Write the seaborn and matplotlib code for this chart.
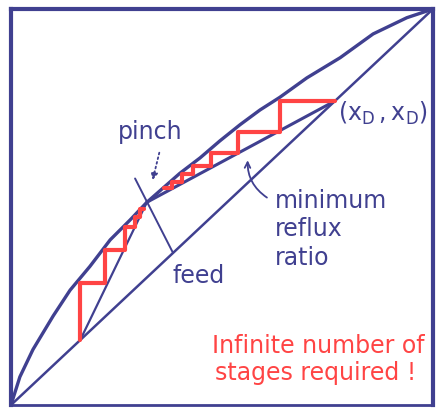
import matplotlib
matplotlib.use("Agg")
import matplotlib.pyplot as plt
import seaborn as sns

# curves (mole fractions)
eq_x = [0.0, 0.021, 0.052, 0.100, 0.140, 0.187, 0.235, 0.282, 0.322, 0.400, 0.448, 0.495, 0.543, 0.590, 0.637, 0.701, 0.780, 0.858, 0.938, 1.0]
eq_y = [0.0, 0.071, 0.140, 0.225, 0.290, 0.350, 0.417, 0.467, 0.512, 0.585, 0.624, 0.667, 0.708, 0.745, 0.777, 0.826, 0.877, 0.937, 0.978, 1.0]

diag_x = [0.0, 1.0]
diag_y = [0.0, 1.0]

# rectifying line at minimum reflux (x_D -> pinch)
rect_x = [0.768, 0.322]
rect_y = [0.768, 0.512]

# stripping line (x_B -> pinch)
strip_x = [0.164, 0.322]
strip_y = [0.164, 0.512]

# feed line, crosses the diagonal and runs a bit past the pinch
feed_x = [0.384, 0.294]
feed_y = [0.384, 0.572]

# stage steps
top_steps_x = [0.768, 0.637, 0.637, 0.538, 0.538, 0.474, 0.474, 0.431, 0.431, 0.405, 0.405, 0.382, 0.382, 0.362]
top_steps_y = [0.768, 0.768, 0.690, 0.690, 0.637, 0.637, 0.603, 0.603, 0.584, 0.584, 0.563, 0.563, 0.548, 0.548]
low_steps_x = [0.164, 0.164, 0.223, 0.223, 0.270, 0.270, 0.294, 0.294, 0.306, 0.306, 0.314]
low_steps_y = [0.164, 0.308, 0.308, 0.391, 0.391, 0.449, 0.449, 0.475, 0.475, 0.495, 0.495]

navy = "#404090"
red = "#ff4444"

sns.set_style("white")
plt.rcParams["font.family"] = ["DejaVu Sans"]
plt.rcParams["mathtext.default"] = "regular"

fig = plt.figure(figsize=(4.36, 4.08), dpi=100)
ax = fig.add_axes([11 / 436, 3 / 408, 422 / 436, 396 / 408])

sns.lineplot(x=eq_x, y=eq_y, sort=False, estimator=None, color=navy, lw=2.4, ax=ax)
sns.lineplot(x=diag_x, y=diag_y, sort=False, estimator=None, color=navy, lw=1.8, ax=ax)
sns.lineplot(x=rect_x, y=rect_y, sort=False, estimator=None, color=navy, lw=2.2, ax=ax)
sns.lineplot(x=strip_x, y=strip_y, sort=False, estimator=None, color=navy, lw=1.6, ax=ax)
sns.lineplot(x=feed_x, y=feed_y, sort=False, estimator=None, color=navy, lw=1.4, ax=ax)
sns.lineplot(x=top_steps_x, y=top_steps_y, sort=False, estimator=None, color=red, lw=3, ax=ax)
sns.lineplot(x=low_steps_x, y=low_steps_y, sort=False, estimator=None, color=red, lw=3, ax=ax)

ax.set_xlim(0, 1)
ax.set_ylim(0, 1)
ax.set_xticks([])
ax.set_yticks([])
for s in ax.spines.values():
    s.set_color(navy)
    s.set_linewidth(3)
ax.spines["bottom"].set_linewidth(2)

fs = 17
ax.text(0.329, 0.689, "pinch", color=navy, fontsize=fs, ha="center", va="center")
ax.annotate("", xy=(0.334, 0.561), xytext=(0.353, 0.644),
            arrowprops=dict(arrowstyle="-|>", color=navy, lw=1.3, ls=":"))
ax.text(0.882, 0.737, "$(x_D\\,,x_D)$", color=navy, fontsize=fs, ha="center", va="center")
ax.text(0.626, 0.497, "minimum", color=navy, fontsize=fs, ha="left", va="baseline")
ax.text(0.626, 0.427, "reflux", color=navy, fontsize=fs, ha="left", va="baseline")
ax.text(0.626, 0.354, "ratio", color=navy, fontsize=fs, ha="left", va="baseline")
ax.annotate("", xy=(0.561, 0.625), xytext=(0.612, 0.52),
            arrowprops=dict(arrowstyle="->", color=navy, lw=1.3,
                            connectionstyle="arc3,rad=-0.3"))
ax.text(0.382, 0.308, "feed", color=navy, fontsize=fs, ha="left", va="baseline")
ax.text(0.476, 0.131, "Infinite number of", color=red, fontsize=fs, ha="left", va="baseline")
ax.text(0.483, 0.063, "stages required !", color=red, fontsize=fs, ha="left", va="baseline")

fig.savefig("out.png", dpi=100)
